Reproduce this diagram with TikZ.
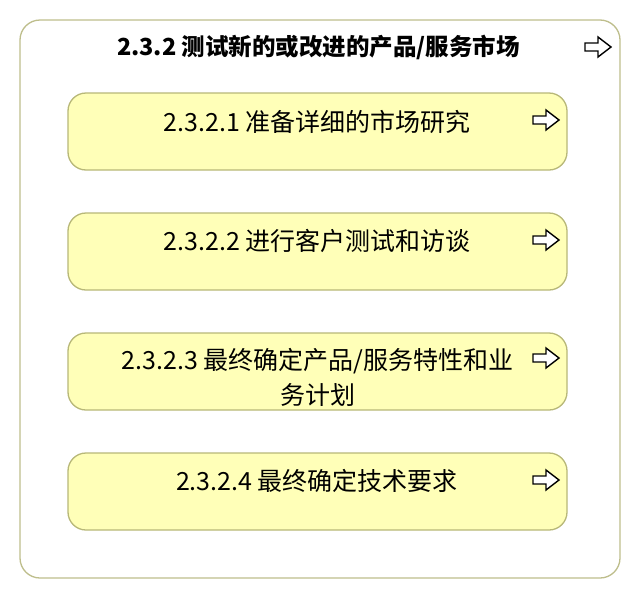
\documentclass[tikz,border=0pt]{standalone}
\usepackage{fontspec}
\setmainfont{Noto Sans CJK SC}
\definecolor{boxfill}{RGB}{255,255,184}
\definecolor{boxline}{RGB}{184,184,120}
\definecolor{outline}{RGB}{190,190,140}
\begin{document}
\begin{tikzpicture}[x=1pt,y=-1pt,
  outerbox/.style={draw=outline, line width=1.3pt, rounded corners=20pt, fill=white, minimum width=600pt, minimum height=558pt, inner sep=0pt},
  itembox/.style={draw=boxline, line width=1.3pt, rounded corners=18pt, fill=boxfill, minimum width=499pt, minimum height=77pt, inner sep=0pt},
  lbl/.style={font=\fontsize{25pt}{35pt}\selectfont, inner sep=0pt, align=center},
  ttl/.style={font=\fontsize{23.5pt}{28pt}\selectfont\bfseries, inner sep=0pt},
  hollowarrow/.pic={\draw[line width=1.4pt, line join=miter, fill=white] (-13,-4) -- (0,-4) -- (0,-10) -- (13,0) -- (0,10) -- (0,4) -- (-13,4) -- cycle;}
]
\useasboundingbox (0,0) rectangle (640,600);
\node[outerbox] (outer) at (320,299) {};
\node[ttl] (title) at (318.5,47) {2.3.2 测试新的或改进的产品/服务市场};
\pic at (598,47) {hollowarrow};

\node[itembox] (b1) at (317.5,131.5) {};
\node[lbl] (t1) at (317,122) {2.3.2.1 准备详细的市场研究};
\pic at (546,120) {hollowarrow};

\node[itembox] (b2) at (317.5,251.5) {};
\node[lbl] (t2) at (317,241) {2.3.2.2 进行客户测试和访谈};
\pic at (546,240) {hollowarrow};

\node[itembox] (b3) at (317.5,371.5) {};
\begin{scope}
\clip ([shift={(1pt,1pt)}]b3.north west) rectangle ([shift={(-1pt,3pt)}]b3.south east);
\node[lbl] (t3) at (317.5,377.5) {2.3.2.3 最终确定产品/服务特性和业\\务计划};
\end{scope}
\pic at (546,358) {hollowarrow};

\node[itembox] (b4) at (317.5,491.5) {};
\node[lbl] (t4) at (317,481) {2.3.2.4 最终确定技术要求};
\pic at (546,480) {hollowarrow};
\end{tikzpicture}
\end{document}
